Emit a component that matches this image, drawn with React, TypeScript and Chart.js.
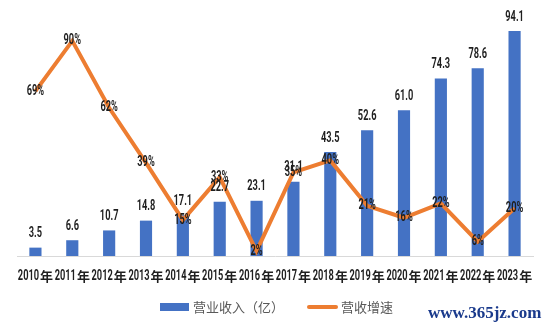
import React, { useEffect, useRef } from "react";
import { Chart, registerables } from "chart.js";

Chart.register(...registerables);

const years = ["2010年","2011年","2012年","2013年","2014年","2015年","2016年","2017年","2018年","2019年","2020年","2021年","2022年","2023年"];
const revenue = [3.5, 6.6, 10.7, 14.8, 17.1, 22.7, 23.1, 31.1, 43.5, 52.6, 61.0, 74.3, 78.6, 94.1];
const growth = [69, 90, 62, 39, 15, 33, 2, 35, 40, 21, 16, 22, 6, 20];
const revenueLabel = "营业收入（亿）";
const growthLabel = "营收增速";

const BLUE = "#4472C4";
const ORANGE = "#ED7D31";
const TEXT = "#1f1f1f";
const DIGIT_FONT = "bold 14px Roboto, 'DejaVu Sans', sans-serif";
const CJK_FONT = "bold 13px 'Noto Sans CJK SC', sans-serif";
const SQUEEZE = 0.66;

function drawCondensed(ctx: CanvasRenderingContext2D, text: string, cx: number, cy: number) {
  ctx.font = DIGIT_FONT;
  const w = ctx.measureText(text).width * SQUEEZE;
  ctx.save();
  ctx.translate(cx - w / 2, cy);
  ctx.scale(SQUEEZE, 1);
  ctx.textAlign = "left";
  ctx.fillText(text, 0, 0);
  ctx.restore();
}

const labelPlugin = {
  id: "valueLabels",
  afterDatasetsDraw(chart: any) {
    const ctx = chart.ctx as CanvasRenderingContext2D;
    ctx.save();
    ctx.fillStyle = TEXT;
    ctx.textBaseline = "middle";
    const barMeta = chart.getDatasetMeta(0);
    barMeta.data.forEach((el: any, i: number) => {
      drawCondensed(ctx, revenue[i].toFixed(1), el.x, el.y - 14);
    });
    const lineMeta = chart.getDatasetMeta(1);
    lineMeta.data.forEach((el: any, i: number) => {
      drawCondensed(ctx, growth[i] + "%", el.x, el.y);
    });
    const xs = chart.scales.x;
    const y = xs.bottom - 7;
    years.forEach((lab: string, i: number) => {
      const cx = xs.getPixelForTick(i);
      const num = lab.slice(0, -1);
      const suf = lab.slice(-1);
      ctx.font = DIGIT_FONT;
      const wn = ctx.measureText(num).width * SQUEEZE;
      ctx.font = CJK_FONT;
      const ws = ctx.measureText(suf).width;
      const start = cx - (wn + ws + 1) / 2;
      ctx.save();
      ctx.font = DIGIT_FONT;
      ctx.translate(start, y);
      ctx.scale(SQUEEZE, 1);
      ctx.textAlign = "left";
      ctx.fillText(num, 0, 0);
      ctx.restore();
      ctx.font = CJK_FONT;
      ctx.textAlign = "left";
      ctx.fillText(suf, start + wn + 1, y);
    });
    ctx.restore();
  },
};

export default function App() {
  const ref = useRef<HTMLCanvasElement | null>(null);
  useEffect(() => {
    document.body.style.margin = "0";
    const chart = new Chart(ref.current!, {
      type: "bar",
      data: {
        labels: years,
        datasets: [
          {
            type: "bar",
            label: revenueLabel,
            data: revenue,
            backgroundColor: BLUE,
            barPercentage: 0.33,
            categoryPercentage: 1,
            yAxisID: "y",
            order: 2,
          },
          {
            type: "line",
            label: growthLabel,
            data: growth,
            borderColor: ORANGE,
            borderWidth: 4,
            pointRadius: 0,
            tension: 0,
            yAxisID: "y1",
            order: 1,
          } as any,
        ],
      },
      options: {
        animation: false,
        responsive: false,
        layout: { padding: { top: 17, left: 17, right: 17, bottom: 46 } },
        plugins: { legend: { display: false }, tooltip: { enabled: false } },
        scales: {
          x: {
            grid: { display: true, drawOnChartArea: false, drawTicks: false },
            border: { display: true, color: "#d9d9d9", width: 1 },
            ticks: {
              autoSkip: false,
              maxRotation: 0,
              minRotation: 0,
              padding: 13,
              color: "rgba(0,0,0,0)",
              font: { family: "Roboto, sans-serif", size: 12, weight: "bold" },
            },
            afterFit(scale: any) {
              scale.height = 27;
            },
          },
          y: { display: false, min: 0, max: 100 },
          y1: { display: false, min: 0, max: 100 },
        },
      },
      plugins: [labelPlugin],
    });
    return () => chart.destroy();
  }, []);

  return (
    <div style={{ position: "relative", width: 550, height: 329, background: "#fff", overflow: "hidden" }}>
      <canvas ref={ref} width={550} height={329} style={{ display: "block" }} />
      <div style={{ position: "absolute", left: 160, top: 303, width: 29, height: 8, background: BLUE }} />
      <div style={{ position: "absolute", left: 193, top: 298, fontFamily: "'Noto Sans CJK SC', sans-serif", fontSize: 13, lineHeight: "18px", color: "#595959", whiteSpace: "nowrap" }}>{revenueLabel}</div>
      <div style={{ position: "absolute", left: 307, top: 305, width: 31, height: 4, background: ORANGE, borderRadius: 2 }} />
      <div style={{ position: "absolute", left: 341, top: 298, fontFamily: "'Noto Sans CJK SC', sans-serif", fontSize: 13, lineHeight: "18px", color: "#595959", whiteSpace: "nowrap" }}>{growthLabel}</div>
      <div style={{ position: "absolute", left: 428, top: 302, fontFamily: "'Liberation Serif', 'DejaVu Serif', serif", fontWeight: "bold", fontSize: 17, lineHeight: "21px", color: "#1a3a8c", whiteSpace: "nowrap" }}>www.365jz.com</div>
    </div>
  );
}
